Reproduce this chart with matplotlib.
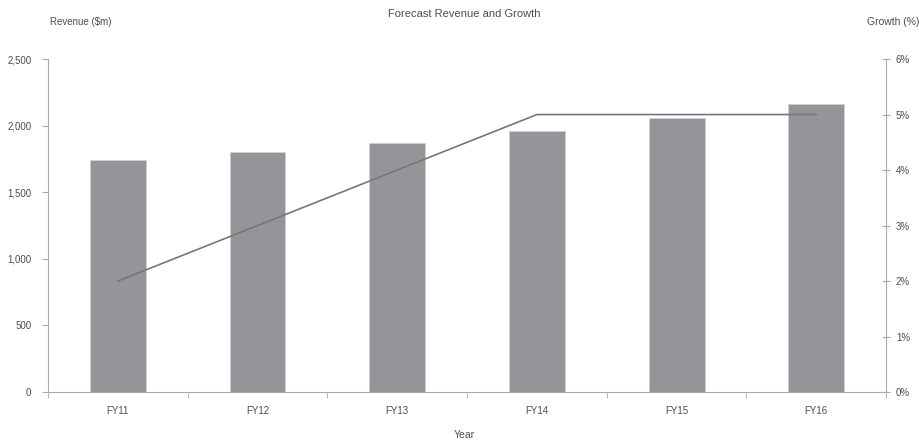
import matplotlib
matplotlib.use("Agg")
import matplotlib.pyplot as plt
from matplotlib.ticker import FuncFormatter, FixedLocator

years = ["FY11", "FY12", "FY13", "FY14", "FY15", "FY16"]
revenue = [1745, 1800, 1870, 1960, 2060, 2165]
growth = [2, 3, 4, 5, 5, 5]

plt.rcParams['font.family'] = ['Liberation Sans', 'DejaVu Sans']
txt = '#4d4d4d'
spine = '#aaaaaa'

fig = plt.figure(figsize=(9.2, 4.43), dpi=100)
ax = fig.add_axes([0.0522, 0.115, 0.911, 0.7517])
x = list(range(len(years)))
ax.bar(x, revenue, width=0.4, color='#939598', edgecolor='#d0d0d2', linewidth=0.6, zorder=2)
ax.set_xlim(-0.5, 5.5)
ax.set_ylim(0, 2500)
ax.set_yticks([0, 500, 1000, 1500, 2000, 2500])
ax.yaxis.set_major_formatter(FuncFormatter(lambda v, p: f"{int(v):,}"))
ax.set_xticks(x)
ax.set_xticklabels(years)
ax.xaxis.set_minor_locator(FixedLocator([i + 0.5 for i in range(-1, 6)]))
ax.tick_params(axis='x', which='major', length=0, pad=10, labelsize=7, labelcolor=txt)
ax.tick_params(axis='x', which='minor', length=4, color=spine, direction='out')
ax.tick_params(axis='y', length=4, color=spine, labelsize=7, labelcolor=txt, pad=8)

ax2 = ax.twinx()
ax2.plot(x, growth, color='#777777', linewidth=1.2, zorder=3)
ax2.set_ylim(0, 6)
ax2.set_yticks(range(0, 7))
ax2.yaxis.set_major_formatter(FuncFormatter(lambda v, p: f"{int(v)}%"))
ax2.tick_params(axis='y', direction='inout', length=6, color=spine, labelsize=7, labelcolor=txt, pad=4)

for a in (ax, ax2):
    a.spines['top'].set_visible(False)
    for s in ('left', 'right', 'bottom'):
        a.spines[s].set_color(spine)
        a.spines[s].set_linewidth(0.8)
ax.spines['right'].set_visible(False)
ax2.spines['left'].set_visible(False)
ax2.spines['bottom'].set_visible(False)

fig.text(0.505, 0.968, "Forecast Revenue and Growth", ha='center', va='center', fontsize=8, color=txt)
fig.text(0.054, 0.95, "Revenue ($m)", ha='left', va='center', fontsize=7, color=txt)
fig.text(0.999, 0.95, "Growth (%)", ha='right', va='center', fontsize=7.5, color=txt)
fig.text(0.505, 0.018, "Year", ha='center', va='center', fontsize=7.5, color=txt)

fig.savefig("out.png", dpi=100)
